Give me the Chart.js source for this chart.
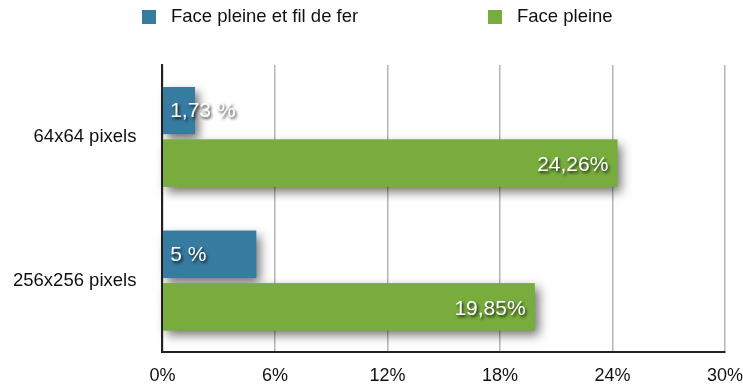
<!DOCTYPE html>
<html>
<head>
<meta charset="utf-8">
<script src="https://cdn.jsdelivr.net/npm/chart.js@4.4.1/dist/chart.umd.min.js"></script>
<style>
  html, body { margin: 0; padding: 0; background: #fff; }
  #wrap { width: 743px; height: 389px; }
</style>
</head>
<body>
<div id="wrap"><canvas id="chart"></canvas></div>
<script>
// -------- data --------
const categories = ['64x64 pixels', '256x256 pixels'];
const seriesNames = ['Face pleine et fil de fer', 'Face pleine'];
const wireValues = [1.73, 5];
const solidValues = [24.26, 19.85];
const valueSuffix = [' %', '%'];
const xTicks = [0, 6, 12, 18, 24, 30];

// -------- style --------
const FONT = "'Liberation Sans', Arial, Helvetica, sans-serif";
const BLUE = '#367ba0';
const GREEN = '#78ad3e';
const legendStart = [142, 488];

const fmt = (v, i) => String(v).replace('.', ',') + valueSuffix[i];

// shadows under the bars, drawn before the bars themselves
const barShadow = {
  id: 'barShadow',
  beforeDatasetsDraw(chart){
    const ctx = chart.ctx;
    ctx.save();
    ctx.shadowColor = 'rgba(0,0,0,0.55)';
    ctx.shadowBlur = 10;
    ctx.shadowOffsetX = 4;
    ctx.shadowOffsetY = 5;
    chart.data.datasets.forEach((ds, i)=>{
      chart.getDatasetMeta(i).data.forEach(bar=>{
        const p = bar.getProps(['x','y','base','height'], true);
        ctx.fillStyle = ds.backgroundColor;
        ctx.fillRect(p.base, p.y - p.height/2, p.x - p.base, p.height);
      });
    });
    ctx.restore();
  }
};

// white value labels with a soft dark shadow
const valueLabels = {
  id: 'valueLabels',
  afterDatasetsDraw(chart){
    const ctx = chart.ctx;
    ctx.save();
    ctx.font = '21px ' + FONT;
    ctx.fillStyle = '#fff';
    ctx.textBaseline = 'middle';
    ctx.shadowColor = 'rgba(0,0,0,0.8)';
    ctx.shadowBlur = 3;
    ctx.shadowOffsetX = 1.5;
    ctx.shadowOffsetY = 2;
    chart.data.datasets.forEach((ds, i)=>{
      chart.getDatasetMeta(i).data.forEach((bar, j)=>{
        const p = bar.getProps(['x','y','base'], true);
        const txt = fmt(ds.data[j], i);
        if(i === 0){
          ctx.textAlign = 'left';
          ctx.fillText(txt, p.base + 7, p.y + 1);
        } else {
          ctx.textAlign = 'right';
          ctx.fillText(txt, p.x - 9, p.y + 2);
        }
      });
    });
    ctx.restore();
  }
};

// legend row across the top
const topLegend = {
  id: 'topLegend',
  afterDraw(chart){
    const ctx = chart.ctx;
    ctx.save();
    ctx.font = '18.5px ' + FONT;
    ctx.textBaseline = 'middle';
    ctx.textAlign = 'left';
    chart.data.datasets.forEach((ds, i)=>{
      const x = legendStart[i];
      ctx.fillStyle = ds.backgroundColor;
      ctx.fillRect(x, 10, 14, 14);
      ctx.fillStyle = '#111';
      ctx.fillText(ds.label, x + 29, 17);
    });
    ctx.restore();
  }
};

new Chart(document.getElementById('chart'), {
  type: 'bar',
  data: {
    labels: categories,
    datasets: [
      {label: seriesNames[0], data: wireValues, backgroundColor: BLUE},
      {label: seriesNames[1], data: solidValues, backgroundColor: GREEN}
    ]
  },
  options: {
    indexAxis: 'y',
    responsive: true,
    maintainAspectRatio: false,
    animation: false,
    categoryPercentage: 0.732,
    barPercentage: 0.895,
    layout: {padding: {top: 65, left: 13, right: 3, bottom: 2}},
    plugins: {legend: {display: false}, tooltip: {enabled: false}},
    scales: {
      x: {
        min: xTicks[0],
        max: xTicks[xTicks.length - 1],
        afterBuildTicks: s => { s.ticks = xTicks.map(v => ({value: v})); },
        grid: {color: '#b5b5b5', lineWidth: 1.5, drawTicks: true, tickLength: 13, tickColor: 'transparent'},
        border: {display: true, color: '#222', width: 2},
        ticks: {
          padding: 0,
          color: '#111',
          font: {family: FONT, size: 18},
          callback: v => v + '%'
        }
      },
      y: {
        grid: {color: 'transparent', drawTicks: true, tickLength: 26, tickColor: 'transparent'},
        border: {display: true, color: '#222', width: 2},
        ticks: {padding: 0, color: '#111', font: {family: FONT, size: 18.5}}
      }
    }
  },
  plugins: [barShadow, valueLabels, topLegend]
});
</script>
</body>
</html>
